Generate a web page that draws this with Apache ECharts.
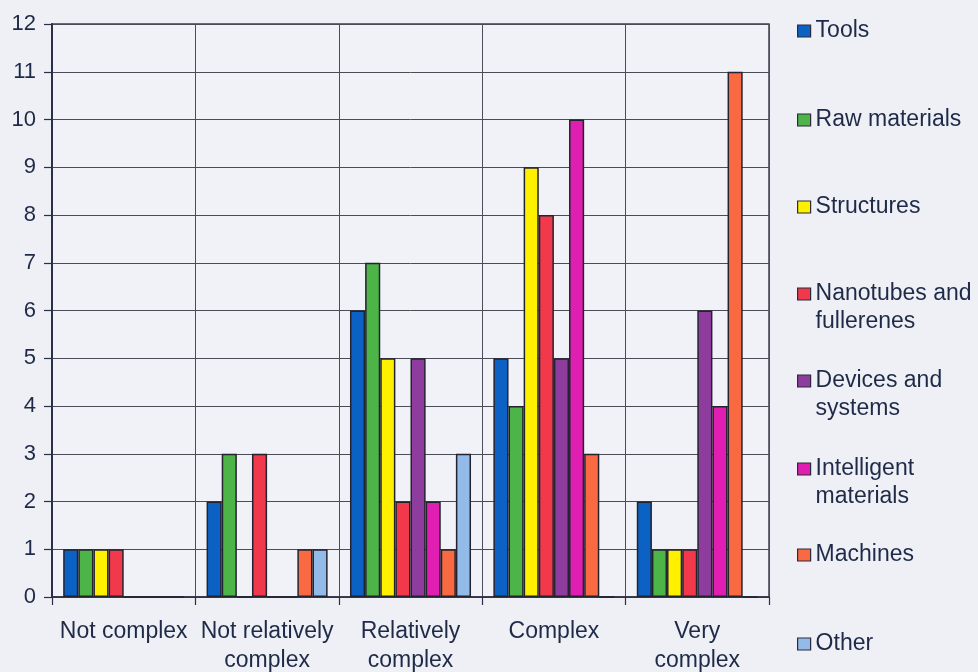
<!DOCTYPE html>
<html>
<head>
<meta charset="utf-8">
<script src="https://cdn.jsdelivr.net/npm/echarts@6/dist/echarts.min.js"></script>
<style>
  html, body { margin: 0; padding: 0; background: #eef0f5; }
  #chart { width: 978px; height: 672px; }
</style>
</head>
<body>
<div id="chart"></div>
<script>
// Complexity categories on the x axis
const categories = ['Not complex', 'Not relatively\ncomplex', 'Relatively\ncomplex', 'Complex', 'Very\ncomplex'];

// Counts per nanotechnology field
const tools        = [1, 2, 6, 5, 2];
const rawMaterials = [1, 3, 7, 4, 1];
const structures   = [1, 0, 5, 9, 1];
const nanotubes    = [1, 3, 2, 8, 1];
const devices      = [0, 0, 5, 5, 6];
const intelligent  = [0, 0, 2, 10, 4];
const machines     = [0, 1, 1, 3, 11];
const other        = [0, 1, 3, 0, 0];

// Y axis range
const yTicks = [0, 1, 2, 3, 4, 5, 6, 7, 8, 9, 10, 11, 12];

const seriesDefs = [
  { name: 'Tools', data: tools, color: '#0b62c4' },
  { name: 'Raw materials', data: rawMaterials, color: '#4db548' },
  { name: 'Structures', data: structures, color: '#fff000' },
  { name: 'Nanotubes and\nfullerenes', data: nanotubes, color: '#f2394b' },
  { name: 'Devices and\nsystems', data: devices, color: '#8e3d9e' },
  { name: 'Intelligent\nmaterials', data: intelligent, color: '#e01fb2' },
  { name: 'Machines', data: machines, color: '#fa6a42' },
  { name: 'Other', data: other, color: '#92bbea' }
];

// Vertical centre of each legend entry's first line
const legendCenters = [31, 120, 207, 294, 381, 469, 555, 644];

const FONT = "'Liberation Sans', Arial, sans-serif";
const TEXT = '#1e2a48';
const LINE_H = 28;

const chart = echarts.init(document.getElementById('chart'), null, { renderer: 'canvas' });

// One legend block per entry so each sits at its own height; wrapped names
// get a leading blank line so the swatch lines up with their first line.
const legends = seriesDefs.map((s, i) => {
  const twoLine = s.name.indexOf('\n') >= 0;
  return {
    data: [s.name],
    orient: 'vertical',
    left: 797,
    top: legendCenters[i] - (twoLine ? 1.5 : 0.5) * LINE_H,
    padding: 0,
    itemWidth: 13,
    itemHeight: 12,
    icon: 'rect',
    selectedMode: false,
    formatter: name => (twoLine ? '\n' + name : name),
    itemStyle: { borderColor: '#2a2a3a', borderWidth: 1.2 },
    textStyle: {
      fontFamily: FONT,
      fontSize: 23,
      color: TEXT,
      lineHeight: LINE_H
    }
  };
});

const option = {
  backgroundColor: '#eef0f5',
  animation: false,
  grid: {
    left: 52, top: 24, right: 209, bottom: 75,
    outerBoundsMode: 'none',
    containLabel: false,
    show: true,
    backgroundColor: '#f0f2f7',
    borderColor: '#3c3f4e',
    borderWidth: 1.5
  },
  legend: legends,
  xAxis: {
    type: 'category',
    data: categories,
    axisLine: { lineStyle: { color: '#2a3045', width: 1.5 } },
    axisTick: { show: true, length: 8, alignWithLabel: false, lineStyle: { color: '#2a3045', width: 1.2 } },
    splitLine: { show: true, lineStyle: { color: '#4a4c58', width: 1 } },
    axisLabel: {
      interval: 0,
      margin: 20,
      fontFamily: FONT,
      fontSize: 23,
      lineHeight: 29,
      color: TEXT
    }
  },
  yAxis: {
    type: 'value',
    min: yTicks[0],
    max: yTicks[yTicks.length - 1],
    interval: 1,
    axisLine: { show: true, lineStyle: { color: '#2a3045', width: 2 } },
    axisTick: { show: true, length: 8, lineStyle: { color: '#2a3045', width: 1.2 } },
    splitLine: { show: true, lineStyle: { color: '#4a4c58', width: 1 } },
    axisLabel: {
      margin: 16,
      fontFamily: FONT,
      fontSize: 22,
      color: TEXT
    }
  },
  series: seriesDefs.map(s => ({
    name: s.name,
    type: 'bar',
    data: s.data,
    barGap: '0%',
    barCategoryGap: '15.6%',
    itemStyle: { color: s.color, borderColor: '#23232f', borderWidth: 1.5 }
  }))
};

chart.setOption(option);
</script>
</body>
</html>
